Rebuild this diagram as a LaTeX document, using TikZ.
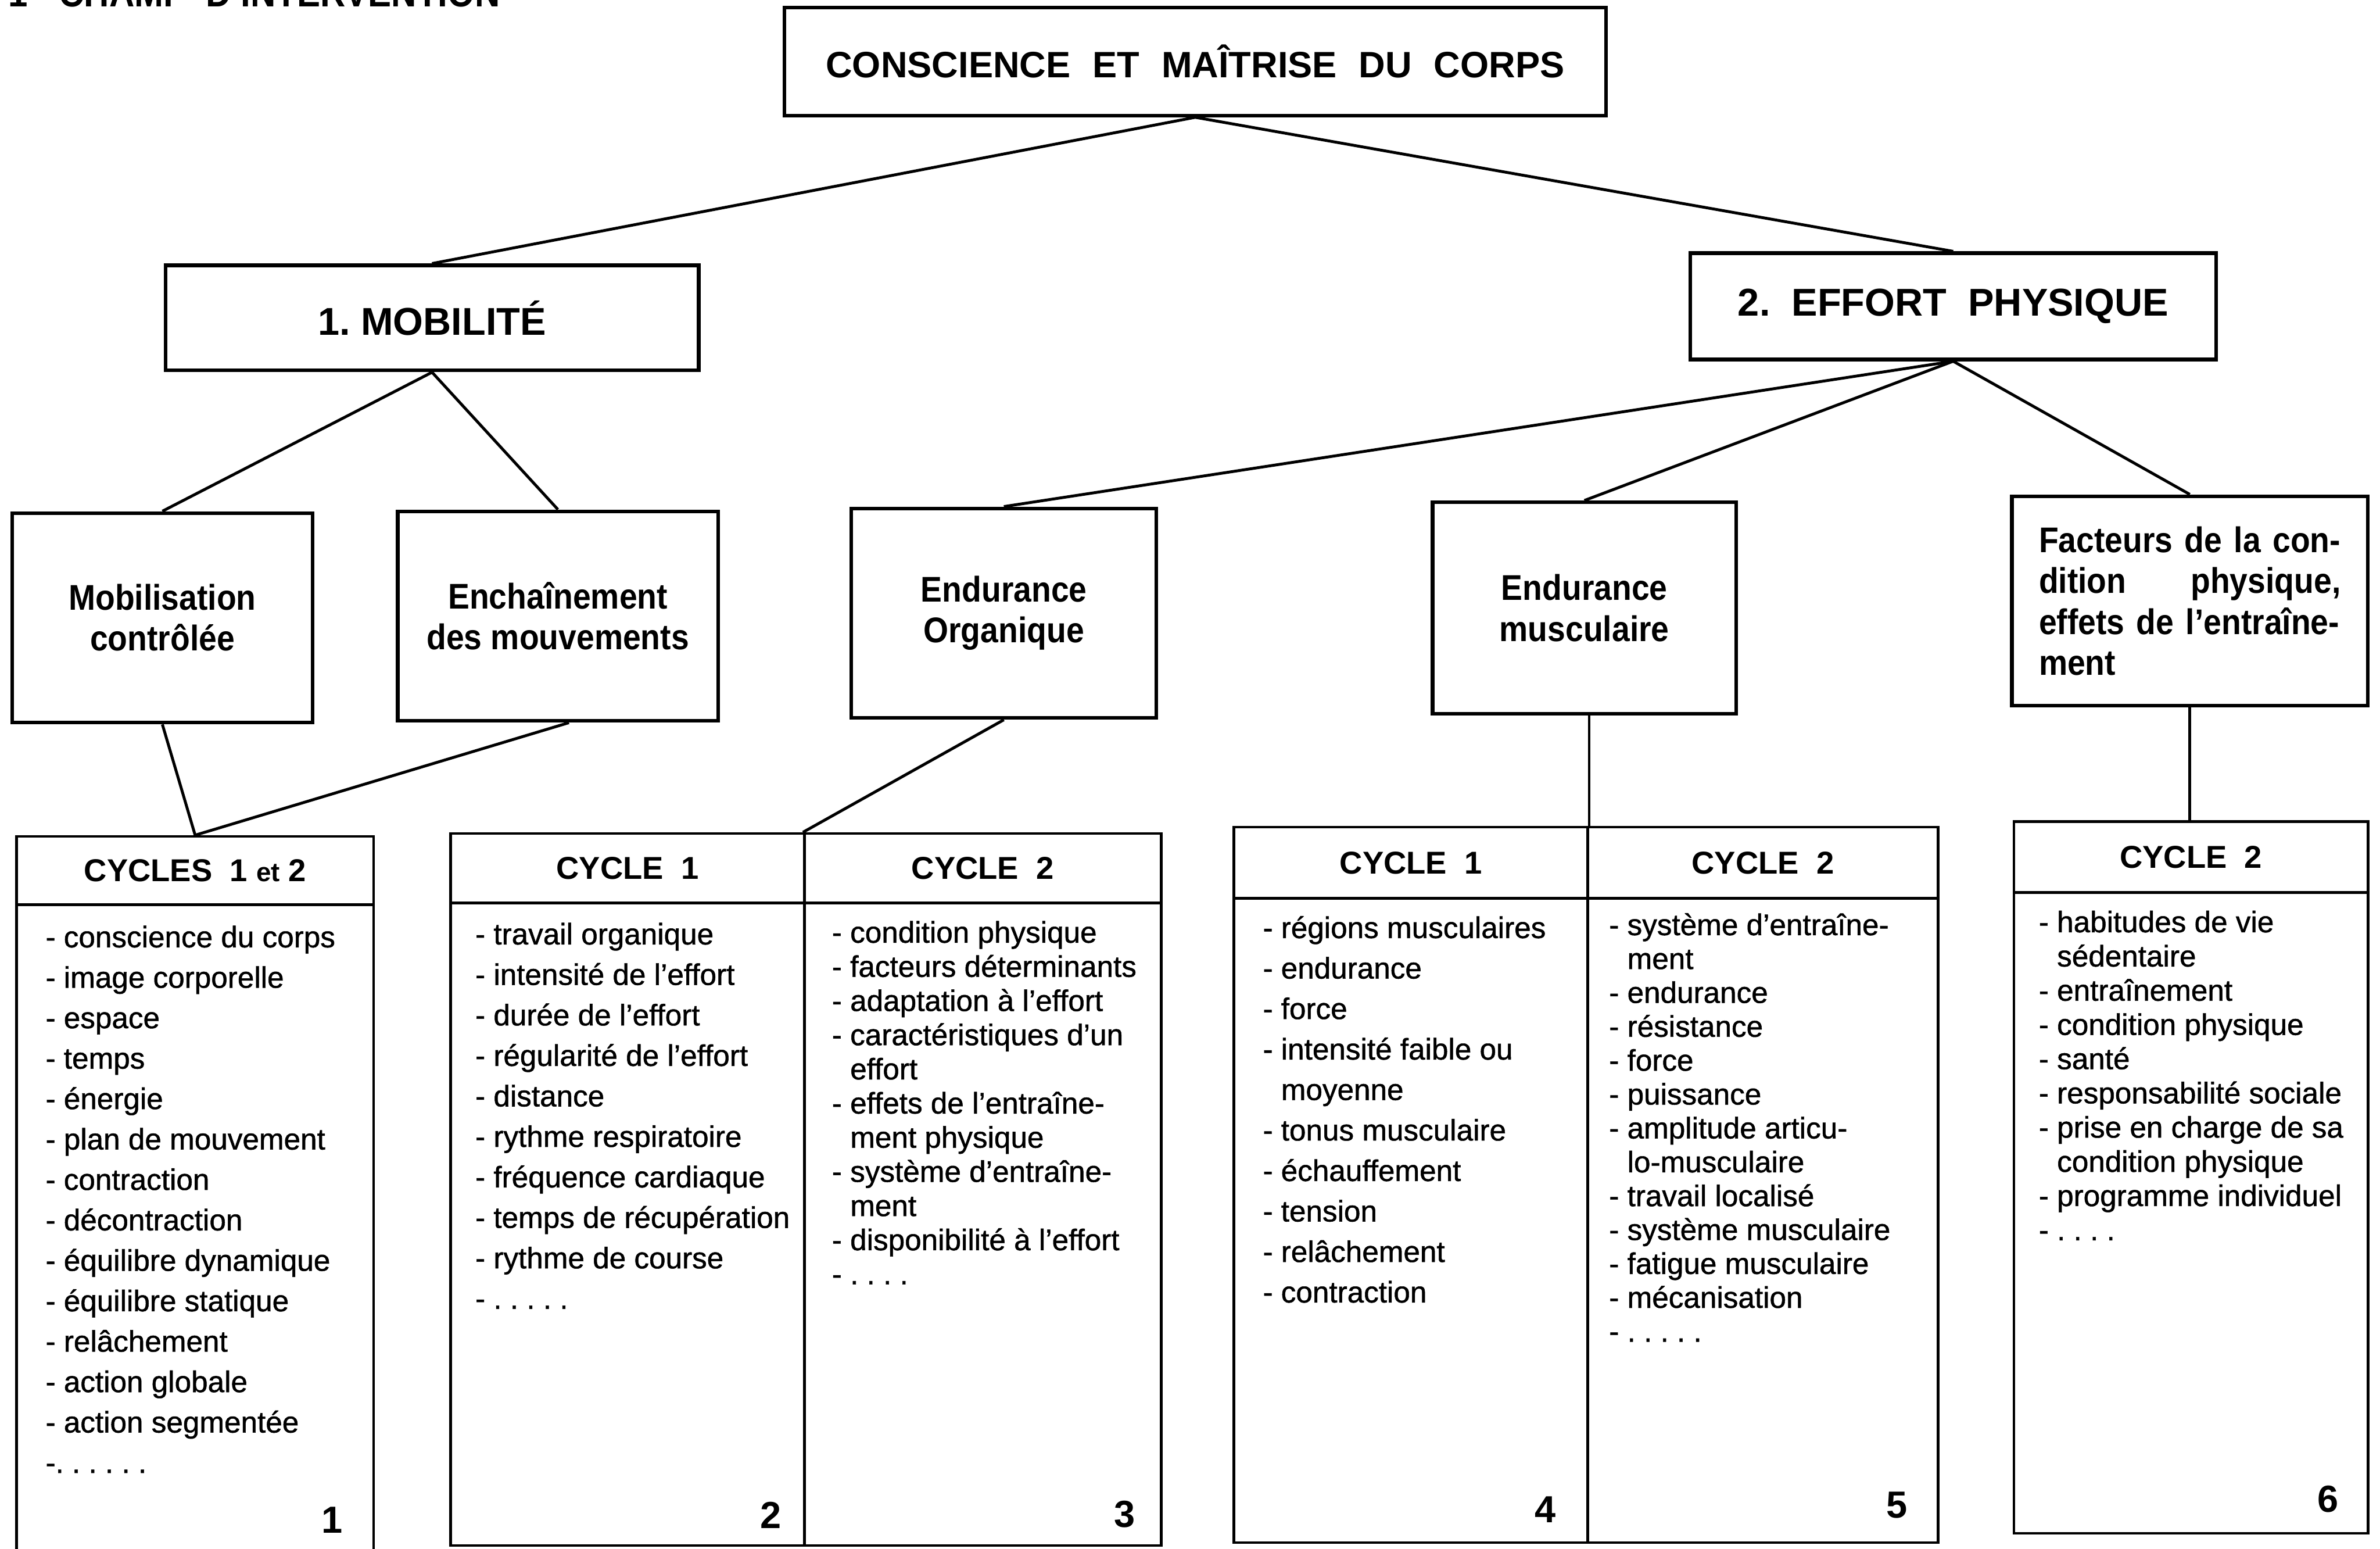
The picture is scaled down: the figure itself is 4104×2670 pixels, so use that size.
\documentclass[tikz,border=0pt]{standalone}
\usepackage{fontspec}
\setmainfont{Liberation Sans}
\newfontfamily\condfont{Liberation Sans}[FakeStretch=0.9]
\newfontfamily\medfont{Liberation Sans}[FakeBold=1]
\tikzset{
  box/.style={draw, line width=1.8pt, inner sep=0pt, align=center},
  cbox/.style={draw, line width=1.3pt, inner sep=0pt, align=center},
  conn/.style={line width=1.4pt},
  hone/.style={font=\fontsize{19}{23}\selectfont\bfseries},
  htwo/.style={font=\condfont\fontsize{17.5}{20}\selectfont\bfseries},
  chead/.style={font=\fontsize{15.5}{18}\selectfont\bfseries},
  itm/.style={anchor=base west, inner sep=0pt, font=\medfont\fontsize{14.6}{17}\selectfont},
  num/.style={anchor=base east, inner sep=0pt, font=\fontsize{18.5}{20}\selectfont\bfseries},
}
\newcommand\itemlist[5]{%
  \foreach \t [count=\i from 0] in {#5} {
    \node[itm] (#1-\i) at (#2,{#3+\i*#4}) {\t};
  }%
}
\newcommand\ind{\hphantom{- }}
\begin{document}
\begin{tikzpicture}[x=0.01cm,y=-0.01cm]
\useasboundingbox (0,0) rectangle (4104,2670);
\clip (0,0) rectangle (4104,2670);

% title (cut at the top edge, as in the original)
\node[anchor=base west, inner sep=0pt, font=\condfont\fontsize{19}{20}\selectfont\bfseries] (title) at (14,12) {1 - CHAMP\ \ D’INTERVENTION};

% upper boxes
\node[box, minimum width=14.16cm, minimum height=1.86cm, font=\fontsize{18}{22}\selectfont\bfseries] (top) at (2061,106)
  {CONSCIENCE\hspace{0.6em}ET\hspace{0.6em}MAÎTRISE\hspace{0.6em}DU\hspace{0.6em}CORPS};
\node[box, hone, minimum width=9.19cm, minimum height=1.81cm] (mob) at (745,548) {1.\ MOBILITÉ};
\node[box, hone, minimum width=9.06cm, minimum height=1.83cm] (eff) at (3368,528) {2.\ \ EFFORT\ \ PHYSIQUE};

\node[box, htwo, minimum width=5.18cm, minimum height=3.61cm] (mobc) at (280,1065) {Mobilisation\\contrôlée};
\node[box, htwo, minimum width=5.52cm, minimum height=3.61cm] (ench) at (962,1062) {Enchaînement\\des mouvements};
\node[box, htwo, minimum width=5.26cm, minimum height=3.61cm] (endo) at (1731,1057) {Endurance\\Organique};
\node[box, htwo, minimum width=5.23cm, minimum height=3.64cm] (endm) at (2732,1048) {Endurance\\musculaire};
\node[box, htwo, minimum width=6.13cm, minimum height=3.61cm, text width=5.2cm, align=left] (fact) at (3776,1036)
  {\makebox[5.2cm][l]{Facteurs de la con-}\\
   \makebox[5.2cm][l]{dition\hfill physique,}\\
   \makebox[5.2cm][l]{effets de l’entraîne-}\\
   ment};

% lower boxes: headers
\node[cbox, chead, minimum width=6.15cm, minimum height=1.18cm] (h1c) at (336.5,1501)
  {CYCLES\ \ 1 {\fontsize{13}{15}\selectfont et} 2};
\node[cbox, chead, minimum width=6.10cm, minimum height=1.20cm] (h2c) at (1082,1497) {CYCLE\ \ 1};
\node[cbox, chead, minimum width=6.15cm, minimum height=1.20cm] (h3c) at (1694.5,1497) {CYCLE\ \ 2};
\node[cbox, chead, minimum width=6.10cm, minimum height=1.23cm] (h4c) at (2433,1487.5) {CYCLE\ \ 1};
\node[cbox, chead, minimum width=6.04cm, minimum height=1.23cm] (h5c) at (3040,1487.5) {CYCLE\ \ 2};
\node[cbox, chead, minimum width=6.10cm, minimum height=1.23cm] (h6c) at (3778,1477.5) {CYCLE\ \ 2};

% lower boxes: bodies
\node[cbox, minimum width=6.15cm, minimum height=11.40cm] (b1) at (336.5,2130) {};
\node[cbox, minimum width=6.10cm, minimum height=11.07cm] (b2) at (1082,2110.5) {};
\node[cbox, minimum width=6.15cm, minimum height=11.07cm] (b3) at (1694.5,2110.5) {};
\node[cbox, minimum width=6.10cm, minimum height=11.10cm] (b4) at (2433,2104) {};
\node[cbox, minimum width=6.04cm, minimum height=11.10cm] (b5) at (3040,2104) {};
\node[cbox, minimum width=6.10cm, minimum height=11.04cm] (b6) at (3778,2091) {};

% connectors
\draw[conn] (top.south) -- (mob.north);
\draw[conn] (top.south) -- (eff.north);
\draw[conn] (mob.south) -- (mobc.north);
\draw[conn] (mob.south) -- (ench.north);
\draw[conn] (eff.south) -- (endo.north);
\draw[conn] (eff.south) -- (endm.north);
\draw[conn] (eff.south) -- (fact.north);
\draw[conn] (mobc.south) -- (h1c.north);
\draw[conn] ([xshift=0.19cm]ench.south) -- (h1c.north);
\draw[conn] (endo.south) -- (h3c.north west);
\draw[conn, line width=1.1pt] (endm.south -| h4c.north east) -- (h4c.north east);
\draw[conn] (fact.south) -- (fact.south |- h6c.north);

% lists
\itemlist{l1}{78}{1633}{69.7}{- conscience du corps,- image corporelle,- espace,- temps,- énergie,- plan de mouvement,- contraction,- décontraction,- équilibre dynamique,- équilibre statique,- relâchement,- action globale,- action segmentée,-.\ .\ .\ .\ .\ .}
\itemlist{l2}{819}{1628}{69.8}{- travail organique,- intensité de l’effort,- durée de l’effort,- régularité de l’effort,- distance,- rythme respiratoire,- fréquence cardiaque,- temps de récupération,- rythme de course,- .\ .\ .\ .\ .}
\itemlist{l3}{1434}{1625}{58.9}{- condition physique,- facteurs déterminants,- adaptation à l’effort,- caractéristiques d’un,\ind effort,- effets de l’entraîne-,\ind ment physique,- système d’entraîne-,\ind ment,- disponibilité à l’effort,- .\ .\ .\ .}
\itemlist{l4}{2177}{1617}{69.8}{- régions musculaires,- endurance,- force,- intensité faible ou,\ind moyenne,- tonus musculaire,- échauffement,- tension,- relâchement,- contraction}
\itemlist{l5}{2774}{1612}{58.4}{- système d’entraîne-,\ind ment,- endurance,- résistance,- force,- puissance,- amplitude articu-,\ind lo-musculaire,- travail localisé,- système musculaire,- fatigue musculaire,- mécanisation,- .\ .\ .\ .\ .}
\itemlist{l6}{3515}{1607}{59}{- habitudes de vie,\ind sédentaire,- entraînement,- condition physique,- santé,- responsabilité sociale,- prise en charge de sa,\ind condition physique,- programme individuel,- .\ .\ .\ .}

% numbers
\node[num] (n1) at (591,2643) {1};
\node[num] (n2) at (1348,2635) {2};
\node[num] (n3) at (1958,2633) {3};
\node[num] (n4) at (2683,2625) {4};
\node[num] (n5) at (3290,2617) {5};
\node[num] (n6) at (4033,2607) {6};
\end{tikzpicture}
\end{document}
